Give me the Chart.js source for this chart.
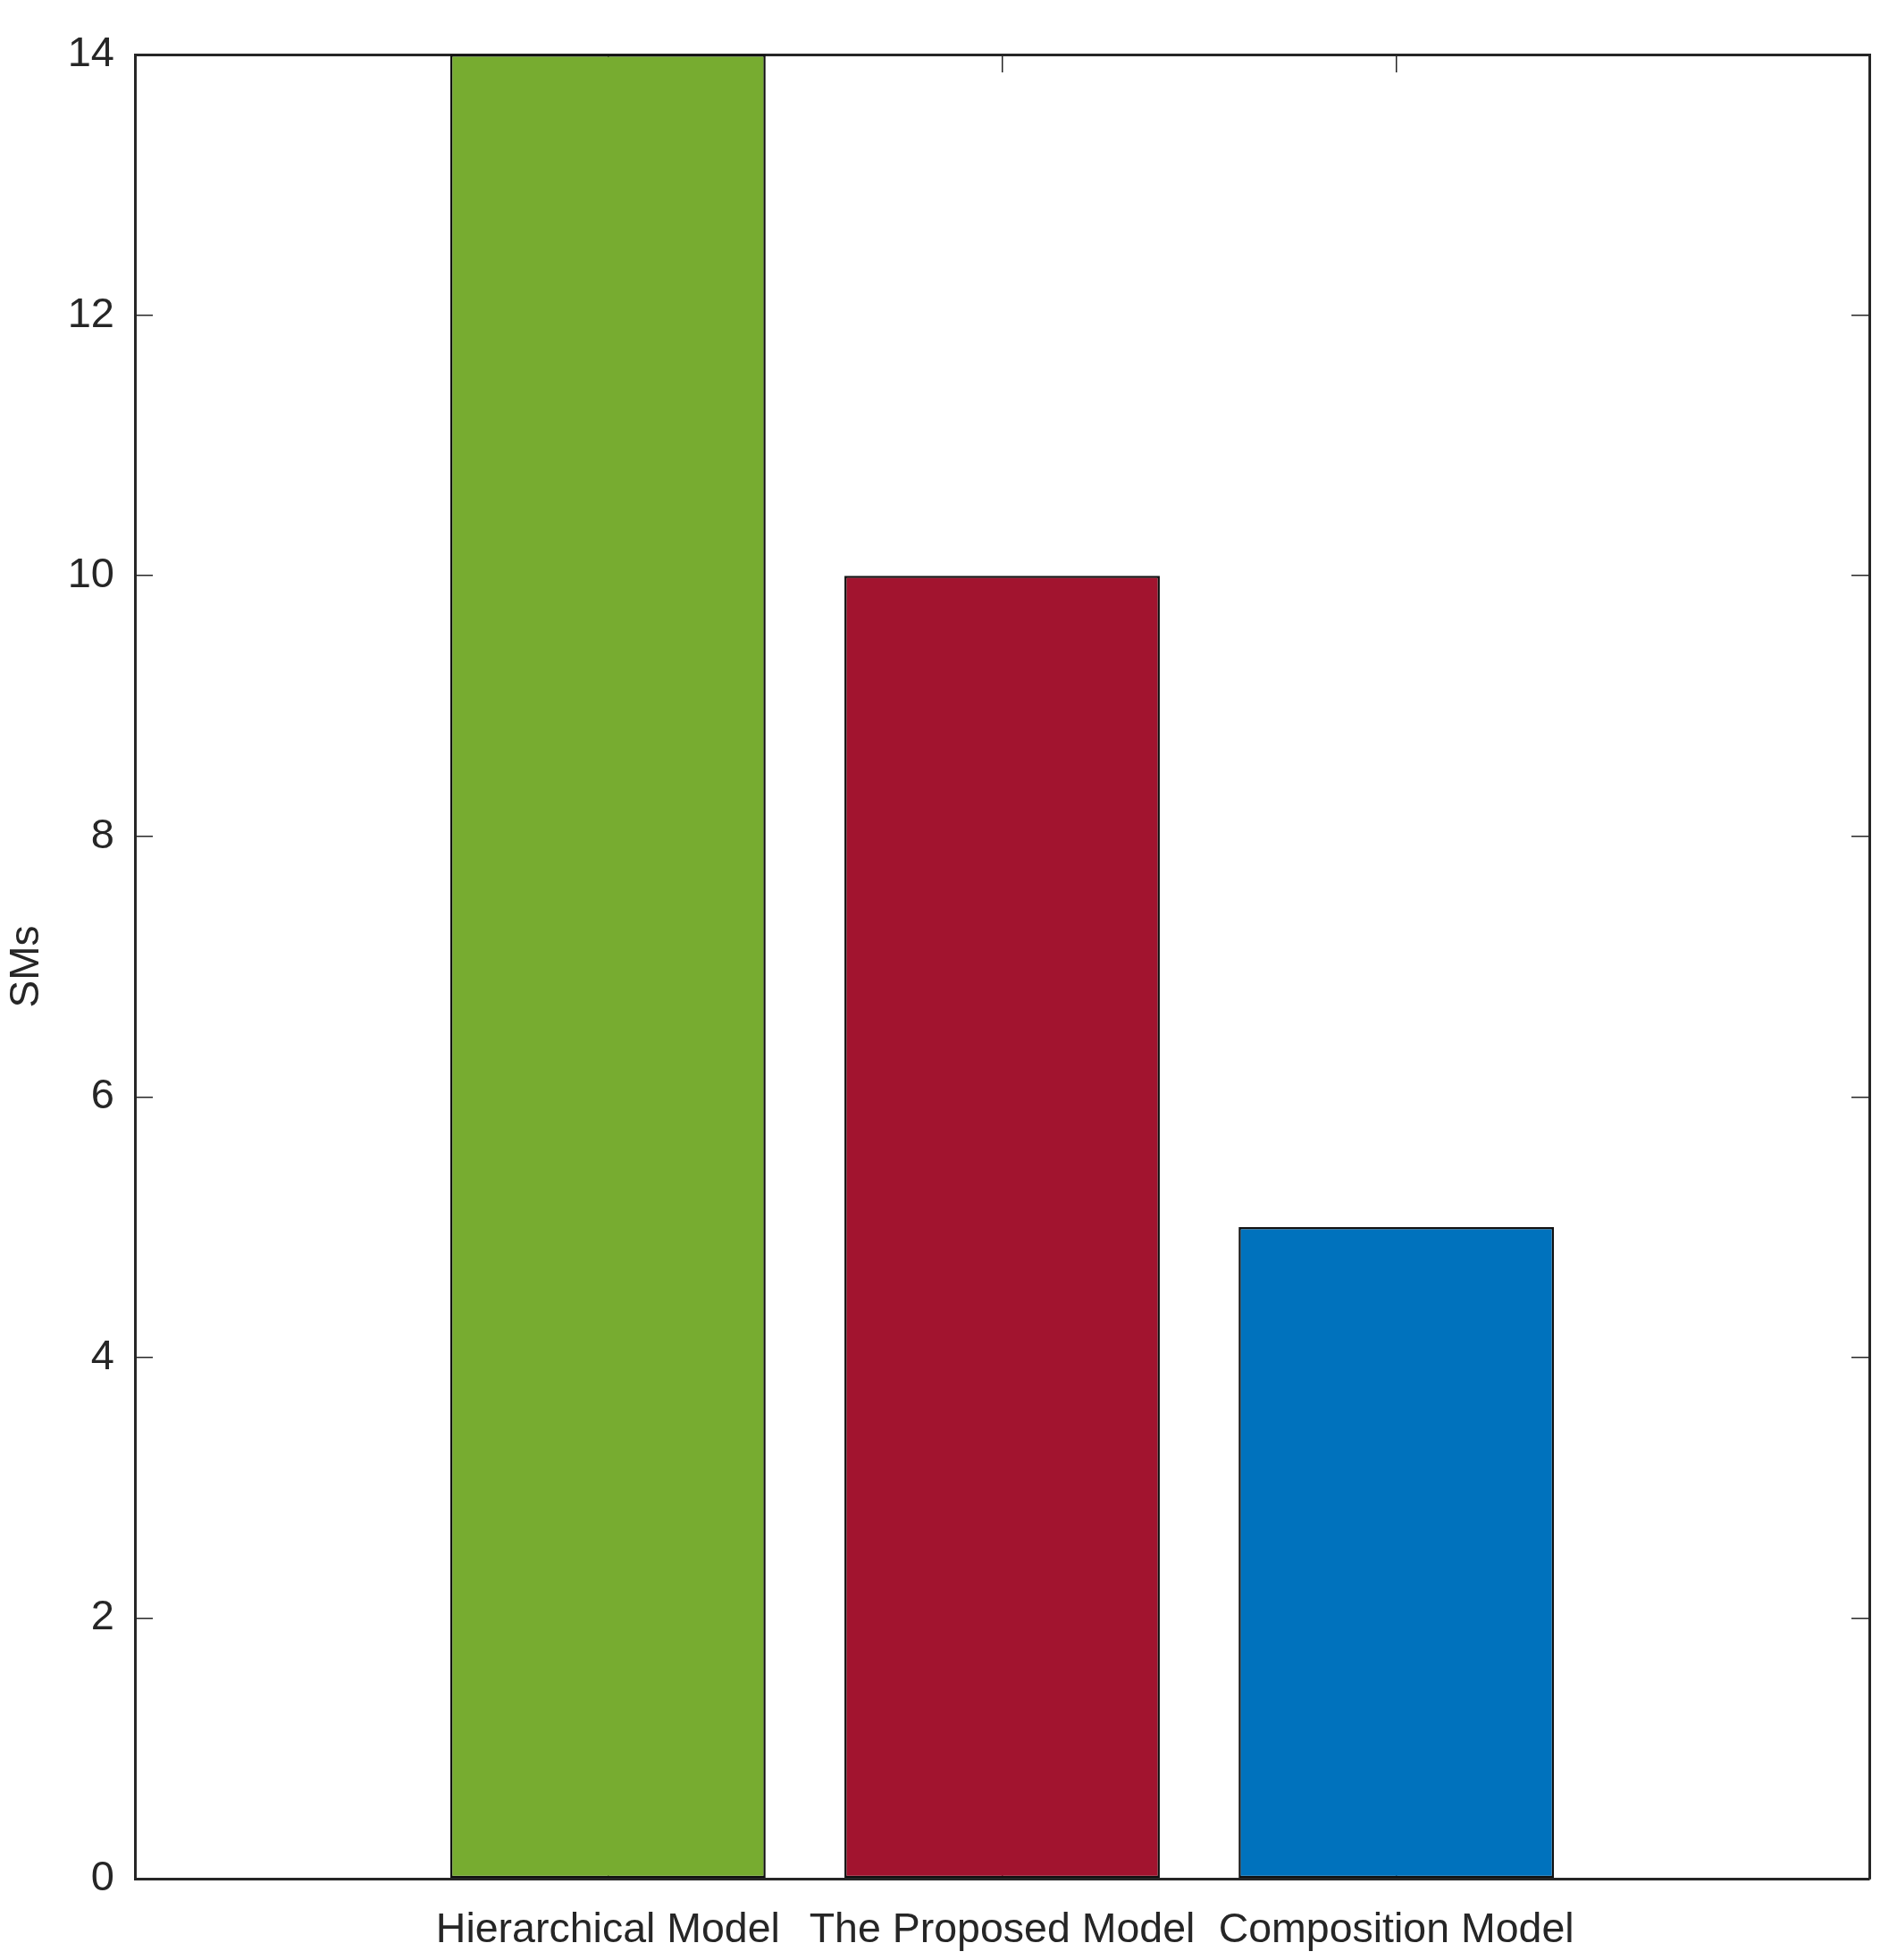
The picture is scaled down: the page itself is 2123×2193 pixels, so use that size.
<!DOCTYPE html>
<html>
<head>
<meta charset="utf-8">
<script src="https://cdn.jsdelivr.net/npm/chart.js@4/dist/chart.umd.min.js"></script>
<style>
  html, body { margin: 0; padding: 0; background: #fff; }
  #wrap { width: 2123px; height: 2193px; }
</style>
</head>
<body>
<div id="wrap"><canvas id="myChart"></canvas></div>
<script>
// bar chart of SMs per model
var categories = ['Hierarchical Model', 'The Proposed Model', 'Composition Model'];
var values = [14, 10, 5];
var colors = ['#77AC30', '#A2142F', '#0072BD'];
var yTicks = [0, 2, 4, 6, 8, 10, 12, 14];

var axisColor = '#262626';
var fontFamily = '"Liberation Sans", Arial, sans-serif';

var points = categories.map(function (c, i) { return { x: i + 1, y: values[i] }; });

function catTicks(scale) {
    scale.ticks = categories.map(function (c, i) { return { value: i + 1 }; });
}
function numTicks(scale) {
    scale.ticks = yTicks.map(function (v) { return { value: v }; });
}
// fixed box size, no extra label padding
function fixBox(w, h) {
    return function (s) {
        if (w != null) s.width = w;
        if (h != null) s.height = h;
        s.paddingTop = 0; s.paddingBottom = 0;
        s.paddingLeft = 0; s.paddingRight = 0;
    };
}

var innerGrid = {
    offset: false,
    drawOnChartArea: false,
    drawTicks: true,
    tickLength: -20,
    lineWidth: 1.5,
    color: axisColor
};
var border = { display: true, color: axisColor, width: 3 };

var ctx = document.getElementById('myChart').getContext('2d');
var myChart = new Chart(ctx, {
    type: 'bar',
    data: {
        datasets: [{
            data: points,
            backgroundColor: colors,
            borderColor: '#111',
            borderWidth: 2.5,
            borderSkipped: false,
            barPercentage: 0.8,
            categoryPercentage: 1.0
        }]
    },
    options: {
        responsive: true,
        maintainAspectRatio: false,
        animation: false,
        layout: { padding: 0 },
        plugins: {
            legend: { display: false },
            tooltip: { enabled: false }
        },
        scales: {
            x: {
                type: 'linear',
                position: 'bottom',
                offset: false,
                min: -0.2,
                max: 4.2,
                z: 1,
                afterBuildTicks: catTicks,
                afterFit: fixBox(null, 91),
                grid: innerGrid,
                border: border,
                ticks: {
                    padding: 50,
                    maxRotation: 0,
                    autoSkip: false,
                    color: axisColor,
                    font: { family: fontFamily, size: 46.5 },
                    callback: function (v) { return categories[v - 1]; }
                }
            },
            x2: {
                type: 'linear',
                position: 'top',
                offset: false,
                min: -0.2,
                max: 4.2,
                z: 1,
                afterBuildTicks: catTicks,
                afterFit: fixBox(null, 61),
                grid: innerGrid,
                border: border,
                ticks: { display: false }
            },
            y: {
                position: 'left',
                min: 0,
                max: 14,
                z: 1,
                afterBuildTicks: numTicks,
                afterFit: fixBox(151, null),
                grid: innerGrid,
                border: border,
                ticks: {
                    padding: 43,
                    color: axisColor,
                    font: { family: fontFamily, size: 47 }
                },
                title: {
                    display: true,
                    text: 'SMs',
                    color: axisColor,
                    font: { family: fontFamily, size: 46 },
                    padding: { top: 3, bottom: 0 }
                }
            },
            y2: {
                position: 'right',
                min: 0,
                max: 14,
                z: 1,
                afterBuildTicks: numTicks,
                afterFit: fixBox(31, null),
                grid: innerGrid,
                border: border,
                ticks: { display: false }
            }
        }
    }
});
</script>
</body>
</html>
